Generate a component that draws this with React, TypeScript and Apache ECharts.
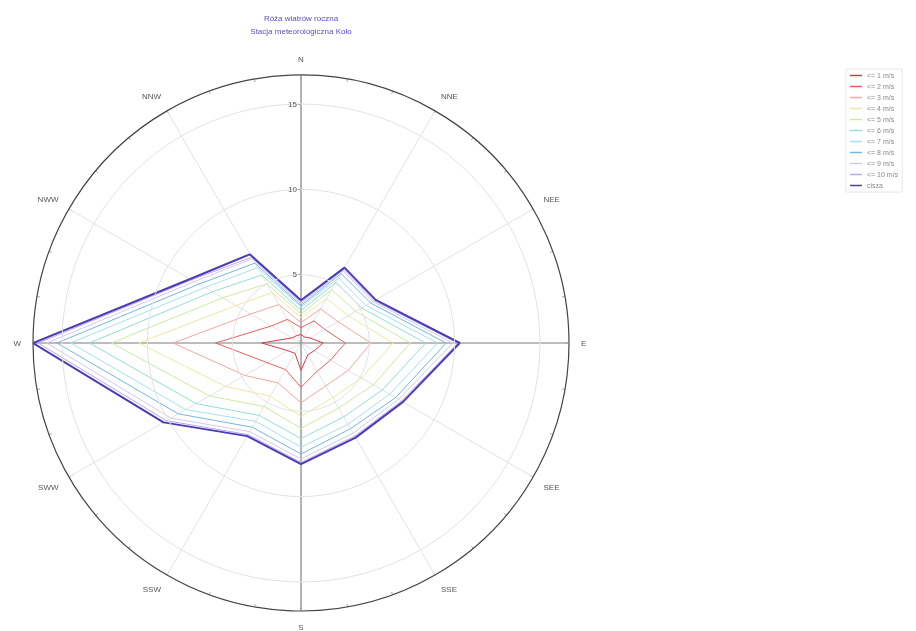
import React, { useEffect, useRef } from 'react';
import * as echarts from 'echarts';

const directions = ['N', 'NNE', 'NEE', 'E', 'SEE', 'SSE', 'S', 'SSW', 'SWW', 'W', 'NWW', 'NNW'];
const seriesNames = ['<= 1 m/s', '<= 2 m/s', '<= 3 m/s', '<= 4 m/s', '<= 5 m/s', '<= 6 m/s', '<= 7 m/s', '<= 8 m/s', '<= 9 m/s', '<= 10 m/s', 'cisza'];

const s1 = [1.5, 1.4, 1.6, 2.3, 1.9, 1.8, 2.6, 1.7, 1.9, 3.3, 1.6, 1.5];
const s2 = [1.9, 2.5, 2.6, 3.6, 3.0, 2.9, 3.6, 2.8, 3.3, 6.0, 3.0, 2.6];
const s3 = [2.2, 3.3, 3.5, 5.1, 4.2, 3.9, 4.5, 3.7, 4.8, 8.5, 4.4, 3.6];
const s4 = [2.5, 4.0, 4.2, 6.4, 5.1, 4.7, 5.3, 4.6, 6.1, 10.5, 5.4, 4.4];
const s5 = [2.7, 4.6, 4.7, 7.4, 5.9, 5.4, 6.0, 5.3, 7.2, 12.1, 6.3, 5.0];
const s6 = [2.9, 5.1, 5.1, 8.3, 6.5, 6.0, 6.6, 5.9, 8.1, 13.4, 7.0, 5.6];
const s7 = [3.1, 5.4, 5.4, 9.0, 7.0, 6.5, 7.1, 6.3, 8.8, 14.5, 7.5, 6.1];
const s8 = [3.2, 5.7, 5.7, 9.5, 7.4, 6.8, 7.5, 6.7, 9.3, 15.3, 7.9, 6.4];
const s9 = [3.3, 5.9, 5.85, 9.9, 7.6, 7.1, 7.8, 7.0, 9.8, 15.9, 8.2, 6.7];
const s10 = [3.4, 6.0, 5.95, 10.2, 7.8, 7.3, 8.0, 7.2, 10.1, 16.4, 8.4, 6.8];
const calm = [3.5, 6.1, 6.05, 10.3, 7.9, 7.4, 8.1, 7.3, 10.3, 16.7, 8.5, 7.0];

const radialTicks = [5, 10, 15];
const radiusMin = 1;
const radiusMax = 16.7;
const sectorDeg = 30;

const colors = ['#d83a4a', '#e86060', '#f2a8a0', '#eee8a0', '#c8eca0', '#90e0d0', '#a8def0', '#70b8e0', '#d4c8f0', '#b8a8ee', '#4a3cb8'];

export default function App() {
  const ref = useRef<HTMLDivElement>(null);
  useEffect(() => {
    const chart = echarts.init(ref.current!, null, { renderer: 'svg' });
    const all = [s1, s2, s3, s4, s5, s6, s7, s8, s9, s10, calm];
    const series: any[] = all.map((vals, i) => ({
      name: seriesNames[i],
      type: 'line',
      coordinateSystem: 'polar',
      data: [...vals.map((v, j) => [v, j * sectorDeg]), [vals[0], 360]],
      symbol: 'none',
      showSymbol: false,
      silent: true,
      color: colors[i],
      lineStyle: { color: colors[i], width: i === 10 ? 2 : 1 },
      z: 5 + i,
    }));
    const cross = (a: number, b: number) => ({
      type: 'line',
      coordinateSystem: 'polar',
      data: [[radiusMax, a], [radiusMin, a], [radiusMax, b]],
      symbol: 'none',
      silent: true,
      lineStyle: { color: '#8a8a8a', width: 1.2 },
      z: 3,
    });
    series.push(cross(0, 180));
    series.push(cross(90, 270));

    chart.setOption({
      animation: false,
      textStyle: { fontFamily: 'Liberation Sans, Arial, sans-serif' },
      polar: { center: [301, 343], radius: 268 },
      angleAxis: {
        type: 'value',
        min: 0,
        max: 360,
        interval: sectorDeg,
        startAngle: 90,
        clockwise: true,
        axisLine: { show: true, lineStyle: { color: '#444', width: 1.2 } },
        axisTick: { show: true, inside: true, length: 4, lineStyle: { color: '#999' } },
        minorTick: { show: true, splitNumber: 3, length: 3, lineStyle: { color: '#aaa' } },
        axisLabel: {
          color: '#555',
          fontSize: 8,
          margin: 12,
          formatter: (v: number) => directions[Math.round(v / sectorDeg)] ?? '',
        },
        splitLine: { show: true, lineStyle: { color: '#e2e2e2', width: 1 } },
      },
      radiusAxis: {
        type: 'value',
        min: radiusMin,
        max: radiusMax,
        axisLine: { show: false },
        axisTick: { show: true, customValues: radialTicks, length: 3, lineStyle: { color: '#aaa' } },
        axisLabel: { customValues: radialTicks, color: '#555', fontSize: 8, margin: 4 },
        splitLine: { show: true, lineStyle: { color: '#e2e2e2', width: 1 } },
        z: 20,
      },
      legend: {
        orient: 'vertical',
        left: 846,
        top: 69,
        data: seriesNames,
        icon: 'rect',
        itemWidth: 12,
        itemHeight: 1.5,
        itemGap: 4,
        padding: [3, 4],
        borderColor: '#e6e6e6',
        borderWidth: 1,
        textStyle: { fontSize: 7, color: '#888' },
      },
      graphic: [
        {
          type: 'text',
          x: 301,
          y: 12,
          style: {
            text: 'Róża wiatrów roczna\nStacja meteorologiczna Koło',
            fill: '#5a4fc0',
            fontSize: 8,
            lineHeight: 13,
            align: 'center',
            fontFamily: 'Liberation Sans, Arial, sans-serif',
          },
        },
      ],
      series,
    });
    return () => chart.dispose();
  }, []);
  return <div ref={ref} style={{ position: 'fixed', left: 0, top: 0, width: 916, height: 631 }} />;
}
